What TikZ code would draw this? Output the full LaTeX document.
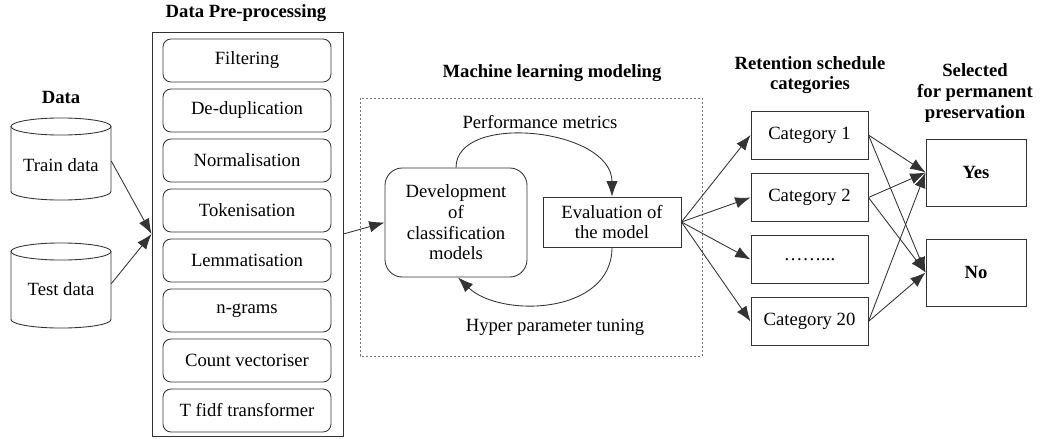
\documentclass[tikz,border=0pt]{standalone}
\usepackage{fontspec}
\setmainfont{Liberation Serif}
\usetikzlibrary{arrows.meta}
\begin{document}
\begin{tikzpicture}[x=0.75pt,y=-0.75pt,
  font=\fontsize{14}{15.5}\selectfont,
  line/.style={draw=black!80,line width=0.65pt},
  arr/.style={line,-{Latex[length=11.5pt,width=8.5pt]}},
  head/.style={font=\fontsize{14}{15.5}\selectfont\bfseries,align=center,inner sep=0pt},
  prebox/.style={line,rounded corners=6pt,minimum width=126pt,minimum height=32.25pt,inner sep=0pt},
  catbox/.style={line,minimum width=87.75pt,minimum height=36pt,inner sep=0pt},
  selbox/.style={line,minimum width=75pt,minimum height=50.25pt,inner sep=0pt,font=\fontsize{14}{15.5}\selectfont\bfseries},
  plain/.style={inner sep=0pt,align=center}]
\useasboundingbox (0,0) rectangle (1040,439);

% Data sources
\node[head] (hdata) at (61,97) {Data};
\draw[line] (11,126.5) -- (11,191.5) arc[start angle=180,end angle=360,x radius=37.5pt,y radius=6.4pt] -- (111,126.5);
\draw[line] (61,126.5) ellipse[x radius=37.5pt,y radius=6.4pt];
\draw[line] (11,251.5) -- (11,319.5) arc[start angle=180,end angle=360,x radius=37.5pt,y radius=6.4pt] -- (111,251.5);
\draw[line] (61,251.5) ellipse[x radius=37.5pt,y radius=6.4pt];
\node[plain,minimum width=75pt] (train) at (61,165) {Train data};
\node[plain,minimum width=75pt] (test) at (61,289) {Test data};

% Pre-processing steps
\node[head] (hpre) at (246,13) {Data Pre-processing};
\node[line,minimum width=143.25pt,minimum height=303pt,inner sep=0pt] (pre) at (247.5,234) {};
\node[prebox] (p1) at (247,60.5) {Filtering};
\node[prebox] (p2) at (247,110.5) {De-duplication};
\node[prebox] (p3) at (247,160.5) {Normalisation};
\node[prebox] (p4) at (247,210.5) {Tokenisation};
\node[prebox] (p5) at (247,260.5) {Lemmatisation};
\node[prebox] (p6) at (247,310.5) {n-grams};
\node[prebox] (p7) at (247,360.5) {Count vectoriser};
\node[prebox] (p8) at (247,410.5) {T fidf transformer};

\draw[arr] ([yshift=3pt]train.east) -- (pre.west);
\draw[arr] ([yshift=4pt]test.east) -- (pre.west);

% Machine learning modelling
\node[head] (hml) at (552,73) {Machine learning modeling};
\draw[draw=black!55,line width=0.6pt,dash pattern=on 1.5pt off 1.5pt] (360,98) rectangle (702,356);
\node[line,rounded corners=13pt,minimum width=106.5pt,minimum height=81.75pt,inner sep=0pt,align=center] (dev) at (456,222.5) {Development\\of\\classification\\models};
\node[line,minimum width=103.5pt,minimum height=37.5pt,inner sep=0pt,align=center] (eval) at (612,222) {Evaluation of\\the model};
\node[plain] (perf) at (540,122) {Performance metrics};
\node[plain] (hyper) at (555,327) {Hyper parameter tuning};
\draw[arr] (dev.north) .. controls (456,112) and (612,128) .. (eval.north);
\draw[arr] (eval.south) .. controls (612,315) and (500,318) .. ([xshift=1.5pt]dev.south);
\draw[arr] (pre.east) -- (dev.west);

% Retention schedule categories
\node[head] (hcat) at (810,75) {Retention schedule\\categories};
\node[catbox] (c1) at (809.5,135) {Category 1};
\node[catbox] (c2) at (809.5,197.5) {Category 2};
\node[catbox] (c3) at (809.5,259.5) {……...};
\node[catbox] (c4) at (809.5,321.5) {Category 20};
\foreach \c in {c1,c2,c3,c4} \draw[arr] (eval.east) -- (\c.west);

% Selection outcome
\node[head] (hsel) at (975,93) {Selected\\for permanent\\preservation};
\node[selbox] (yes) at (976,172.5) {Yes};
\node[selbox] (no) at (976,272.5) {No};
\foreach \c in {c1,c2,c4} {
  \draw[arr] (\c.east) -- (yes.west);
  \draw[arr] (\c.east) -- (no.west);
}
\end{tikzpicture}
\end{document}
